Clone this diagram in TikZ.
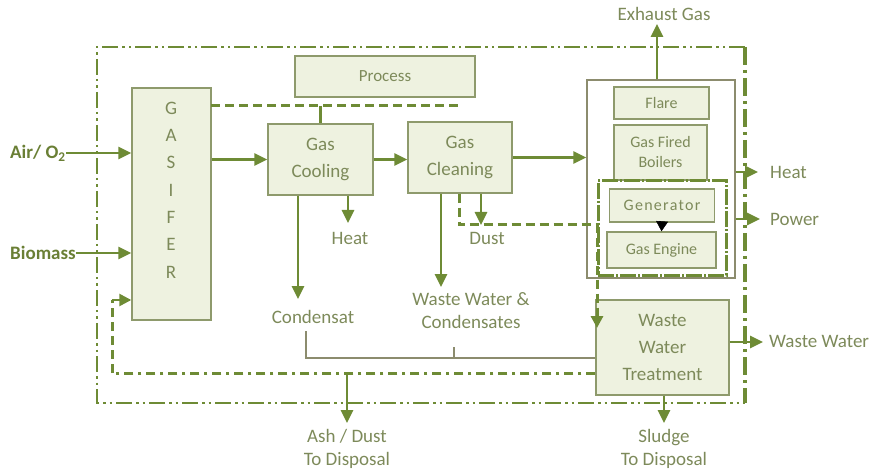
\documentclass[tikz,border=0pt]{standalone}
\usepackage{fontspec}
\setmainfont{Carlito}
\usetikzlibrary{arrows.meta}
\definecolor{lineg}{HTML}{6E8B35}
\definecolor{boxline}{HTML}{8E9A6C}
\definecolor{boxfill}{HTML}{EEF2E0}
\definecolor{txt}{HTML}{7D8A5A}
\definecolor{txtdark}{HTML}{6A7F35}
\definecolor{thingray}{HTML}{8C8C6E}
\begin{document}
\begin{tikzpicture}[x=1pt,y=-1pt,
  unit/.style={draw=boxline, line width=1.4pt, fill=boxfill, inner sep=0pt,
    align=center, text=txt, font=\fontsize{19}{27}\selectfont},
  small/.style={unit, font=\fontsize{16}{20}\selectfont},
  lbl/.style={text=txt, font=\fontsize{19}{23}\selectfont, align=center, inner sep=0pt},
  inlbl/.style={text=txtdark, font=\bfseries\fontsize{19}{23}\selectfont, inner sep=0pt, anchor=west},
  flow/.style={draw=lineg, line width=2.8pt, -{Triangle[length=13pt,width=12pt]}},
  outer/.style={draw=lineg, line width=2.3pt, dash pattern=on 16pt off 4pt on 2.5pt off 4pt on 2.5pt off 4pt},
  rightedge/.style={draw=lineg, line width=3.2pt, dash pattern=on 18pt off 5pt on 3pt off 5pt},
  ashline/.style={draw=lineg, line width=3pt, dash pattern=on 9pt off 5pt on 3pt off 5pt},
  dashedg/.style={draw=lineg, line width=3pt, dash pattern=on 9pt off 5pt},
  engframe/.style={draw=lineg, line width=3pt, dash pattern=on 16pt off 2pt on 2pt off 2pt, inner sep=0pt},
  thinline/.style={draw=thingray, line width=1.2pt},
]
\useasboundingbox (0,0) rectangle (881,473);

% system boundary
\coordinate (otl) at (97,47);
\coordinate (otr) at (745,47);
\coordinate (obr) at (745,403);
\coordinate (obl) at (97,403);
\draw[outer] (otr) -- (otl) -- (obl) -- (obr);
\draw[rightedge] (otr) -- (obr);

% units
\node[unit, minimum width=79pt, minimum height=232pt] (gasif) at (171.5,204) {};
\node[text=txt, font=\fontsize{19}{27.3}\selectfont, align=center, inner sep=0pt] (gasletters) at (171,190) {G\\A\\S\\I\\F\\E\\R};
\node[unit, font=\fontsize{17}{20}\selectfont, minimum width=180pt, minimum height=41pt] (process) at (385,76.5) {Process};
\node[unit, minimum width=105pt, minimum height=71pt] (cooling) at (320.5,159.5) {Gas\\Cooling};
\node[unit, minimum width=104pt, minimum height=71pt] (cleaning) at (460,157.5) {Gas\\Cleaning};
\node[draw=thingray, line width=1.3pt, minimum width=148pt, minimum height=198pt] (bigbox) at (661,179) {};
\node[small, minimum width=95pt, minimum height=32pt] (flare) at (661.5,103) {Flare};
\node[small, minimum width=93pt, minimum height=55pt] (boilers) at (660.5,152.5) {Gas Fired\\Boilers};
\node[engframe, minimum width=128pt, minimum height=94pt] (engbox) at (662,228) {};
\node[small, minimum width=105pt, minimum height=33pt] (generator) at (662,205.5) {\addfontfeature{LetterSpace=8}Generator};
\node[small, minimum width=109pt, minimum height=36pt] (engine) at (661.5,250) {Gas Engine};
\node[unit, minimum width=133pt, minimum height=95pt] (wwt) at (662.5,347.5) {Waste\\Water\\Treatment};

% feeds
\node[inlbl] (air) at (10,153) {Air/ O\textsubscript{2}};
\node[inlbl] (biomass) at (10,253) {Biomass};
\draw[flow] (air.east) -- (gasif.west |- air.east);
\draw[flow] (biomass.east) -- (gasif.west |- biomass.east);

% main gas line
\draw[flow] (gasif.east |- cooling.west) -- (cooling.west);
\draw[flow] (cooling.east) -- (cooling.east -| cleaning.west);
\draw[flow] (cleaning.east) -- (cleaning.east -| bigbox.west);

% process heat link
\coordinate (pl) at (211,106);
\coordinate (pr) at (460,106);
\draw[dashedg] (pl) -- (pr);
\draw[draw=lineg, line width=3pt] (pl -| cooling.north) -- (cooling.north);

% gas cooling outputs
\coordinate (condtip) at (298,299);
\coordinate (cheat) at (348,223);
\draw[flow] (cooling.south -| condtip) -- (condtip);
\draw[flow] (cooling.south -| cheat) -- (cheat);
\node[lbl] (heatc) at (350,238) {Heat};
\node[lbl] (condensat) at (313,317) {Condensat};

% gas cleaning outputs
\coordinate (wwtip) at (441,287);
\coordinate (dusttip) at (481,225);
\draw[flow] (cleaning.south -| wwtip) -- (wwtip);
\draw[flow] (cleaning.south -| dusttip) -- (dusttip);
\node[lbl] (dust) at (487,238) {Dust};
\node[lbl] (wwc) at (471,311) {Waste Water \&\\Condensates};
\coordinate (dl) at (459,225);
\coordinate (dr) at (597,225);
\coordinate (dtip) at (597,328);
\draw[dashedg, -{Triangle[length=12pt,width=12pt]}] (cleaning.south -| dl) -- (dl) -- (dr) -- (dtip);

% condensate collection
\coordinate (c1) at (306,331);
\coordinate (c2) at (306,358);
\coordinate (t1) at (454,347);
\draw[thinline] (c1) -- (c2) -- (c2 -| wwt.west);
\draw[thinline] (t1) -- (t1 |- c2);

% ash return and disposal
\coordinate (ashc) at (112,373);
\coordinate (ret) at (112,300);
\coordinate (ashtop) at (347,373);
\coordinate (ashend) at (347,423);
\draw[ashline] (wwt.west |- ashc) -- (ashc);
\draw[dashedg] (ashc) -- (ret);
\draw[draw=lineg, line width=2.5pt, -{Triangle[length=12pt,width=12pt]}] (ret) -- (gasif.west |- ret);
\draw[flow] (ashtop) -- (ashend);
\node[lbl] (ash) at (347,448.5) {Ash / Dust\\To Disposal};

% gas utilisation
\draw[-{Triangle[length=10pt,width=12pt]}, black, line width=0.6pt] (generator.south) -- (engine.north);
\coordinate (exh) at (657,24);
\draw[flow] (exh |- bigbox.north) -- (exh);
\node[lbl] (exhaust) at (664,14) {Exhaust Gas};
\coordinate (heattip) at (758,172);
\coordinate (powtip) at (760,219);
\draw[flow] (heattip -| bigbox.east) -- (heattip);
\draw[flow] (powtip -| bigbox.east) -- (powtip);
\node[lbl, anchor=west] (heat) at (770,172) {Heat};
\node[lbl, anchor=west] (power) at (770,219) {Power};

% waste water treatment outputs
\coordinate (wwout) at (763,342);
\draw[flow] (wwout -| wwt.east) -- (wwout);
\node[lbl, anchor=west] (wastewater) at (769,341) {Waste Water};
\coordinate (sludgetip) at (664,423);
\draw[flow] (wwt.south -| sludgetip) -- (sludgetip);
\node[lbl] (sludge) at (664,448.5) {Sludge\\To Disposal};
\end{tikzpicture}
\end{document}
